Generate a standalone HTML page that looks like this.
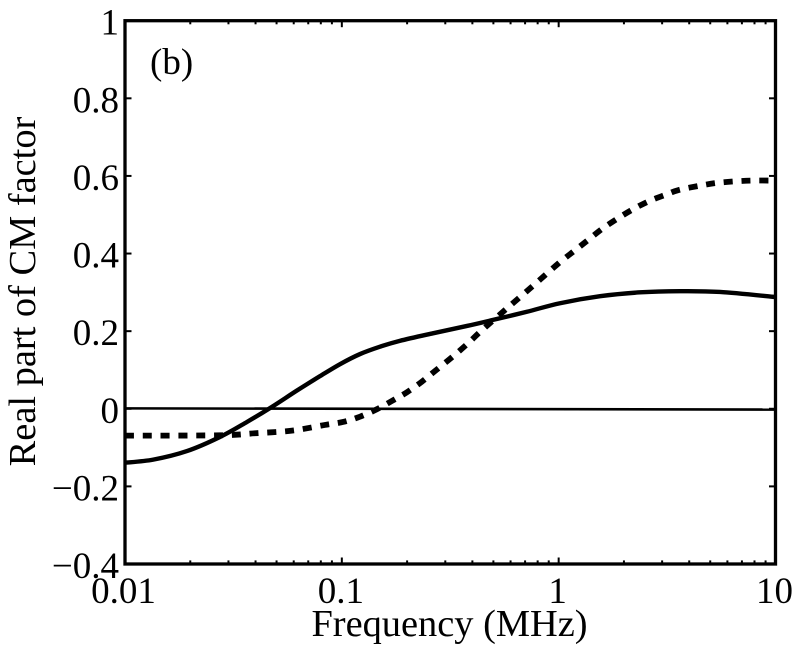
<!DOCTYPE html>
<html lang="en">
<head>
<meta charset="utf-8">
<title>Real part of CM factor vs frequency</title>
<style>
html,body{margin:0;padding:0;background:#fff;width:800px;height:651px;overflow:hidden}
svg{display:block}
text{font-family:"Liberation Serif","Times New Roman",serif;fill:#000;font-size:37px}
text.axis-title{font-size:38.4px}
</style>
</head>
<body>
<svg id="chart" width="800" height="651" viewBox="0 0 800 651" xmlns="http://www.w3.org/2000/svg">
  <rect x="0" y="0" width="800" height="651" fill="#fff"/>
  <g id="marks"></g>
  <g id="ticks"></g>
  <rect x="125" y="20.7" width="650.5" height="543.3" fill="none" stroke="#000" stroke-width="3.3"/>
  <g id="labels"></g>
  <text class="axis-title" x="449.5" y="636" text-anchor="middle">Frequency (MHz)</text>
  <text class="axis-title" transform="translate(35,291.5) rotate(-90)" text-anchor="middle">Real part of CM factor</text>
  <text x="150" y="74">(b)</text>
</svg>
<script>
const xTickValues = [0.01, 0.1, 1, 10];
const xTickLabels = ["0.01", "0.1", "1", "10"];
const yTickValues = [-0.4, -0.2, 0, 0.2, 0.4, 0.6, 0.8, 1];
const yTickLabels = ["\u22120.4", "\u22120.2", "0", "0.2", "0.4", "0.6", "0.8", "1"];
const minorMultipliers = [2, 3, 4, 5, 6, 7, 8, 9];

const solidFreq = [0.01, 0.0135, 0.0193, 0.0274, 0.0365, 0.0473, 0.0621, 0.0793, 0.0981, 0.1213, 0.15, 0.185, 0.263, 0.3776, 0.498, 0.714, 1.014, 1.552, 2.37, 3.63, 5.55, 10];
const solidValues = [-0.139, -0.131, -0.109, -0.0727, -0.034, 0.004, 0.047, 0.084, 0.115, 0.141, 0.16, 0.175, 0.1945, 0.2134, 0.229, 0.25, 0.272, 0.29, 0.3, 0.303, 0.301, 0.288];

const dashedFreq = [0.01, 0.0274, 0.0398, 0.0589, 0.0836, 0.1012, 0.1213, 0.145, 0.17, 0.1995, 0.234, 0.269, 0.322, 0.382, 0.439, 0.578, 0.769, 1.0, 1.19, 1.38, 1.6, 1.88, 2.2, 2.61, 3.13, 3.59, 4.49, 5.37, 6.5, 7.87, 10];
const dashedValues = [-0.0693, -0.0683, -0.0631, -0.0564, -0.0417, -0.034, -0.0204, -0.0013, 0.0201, 0.0425, 0.0698, 0.0974, 0.1327, 0.1688, 0.2005, 0.259, 0.319, 0.375, 0.4084, 0.4368, 0.465, 0.491, 0.514, 0.535, 0.552, 0.564, 0.575, 0.582, 0.586, 0.588, 0.588];

const zeroFreq = [0.01, 10];
const zeroValues = [0.001, -0.002];

const SVGNS = "http://www.w3.org/2000/svg";
const plot = { left: 125, right: 775.5, top: 20.7, bottom: 564 };

function xScale(f) {
  return plot.left + (Math.log10(f) + 2) / 3 * (plot.right - plot.left);
}
function yScale(v) {
  return plot.bottom - (v + 0.4) / 1.4 * (plot.bottom - plot.top);
}
function smoothPath(xs, ys) {
  const p = xs.map((f, i) => [xScale(f), yScale(ys[i])]);
  let d = "M" + p[0][0].toFixed(2) + " " + p[0][1].toFixed(2);
  for (let i = 0; i < p.length - 1; i++) {
    const a = p[Math.max(i - 1, 0)], b = p[i], c = p[i + 1], e = p[Math.min(i + 2, p.length - 1)];
    const c1x = b[0] + (c[0] - a[0]) / 6, c1y = b[1] + (c[1] - a[1]) / 6;
    const c2x = c[0] - (e[0] - b[0]) / 6, c2y = c[1] - (e[1] - b[1]) / 6;
    d += "C" + c1x.toFixed(2) + " " + c1y.toFixed(2) + " " + c2x.toFixed(2) + " " + c2y.toFixed(2) + " " + c[0].toFixed(2) + " " + c[1].toFixed(2);
  }
  return d;
}
function addLine(parent, x1, y1, x2, y2, w) {
  const l = document.createElementNS(SVGNS, "line");
  l.setAttribute("x1", x1);
  l.setAttribute("y1", y1);
  l.setAttribute("x2", x2);
  l.setAttribute("y2", y2);
  l.setAttribute("stroke", "#000");
  l.setAttribute("stroke-width", w);
  parent.appendChild(l);
  return l;
}
function addSeries(xs, ys, width, dash) {
  const s = document.createElementNS(SVGNS, "path");
  s.setAttribute("d", smoothPath(xs, ys));
  s.setAttribute("fill", "none");
  s.setAttribute("stroke", "#000");
  s.setAttribute("stroke-width", width);
  if (dash) s.setAttribute("stroke-dasharray", dash);
  document.getElementById("marks").appendChild(s);
  return s;
}

const zeroLine = addSeries(zeroFreq, zeroValues, 2.6);


const solidLine = addSeries(solidFreq, solidValues, 4.4);


const dashedLine = addSeries(dashedFreq, dashedValues, 5.8, "9 8.8");



const tickGroup = document.getElementById("ticks");
const labelGroup = document.getElementById("labels");

xTickValues.forEach((f, i) => {
  const x = xScale(f);
  const bottomTick = addLine(tickGroup, x, plot.bottom, x, plot.bottom - 6.5, 2);
  
  
  const topTick = addLine(tickGroup, x, plot.top, x, plot.top + 6.5, 2);
  
  
  const t = document.createElementNS(SVGNS, "text");
  
  
  t.setAttribute("x", x - (i === 0 ? 1.5 : 1));
  t.setAttribute("y", 603);
  t.setAttribute("text-anchor", "middle");
  t.textContent = xTickLabels[i];
  labelGroup.appendChild(t);
  if (i < xTickValues.length - 1) {
    minorMultipliers.forEach(m => {
      const mx = xScale(f * m);
      const minorBottom = addLine(tickGroup, mx, plot.bottom, mx, plot.bottom - 3.6, 2);
      
      
      const minorTop = addLine(tickGroup, mx, plot.top, mx, plot.top + 3.6, 2);
      
      
    });
  }
});

yTickValues.forEach((v, i) => {
  const y = yScale(v);
  const leftTick = addLine(tickGroup, plot.left, y, plot.left + 6.5, y, 2);
  
  
  const rightTick = addLine(tickGroup, plot.right, y, plot.right - 6.5, y, 2);
  
  
  const t = document.createElementNS(SVGNS, "text");
  
  
  t.setAttribute("x", 119);
  t.setAttribute("y", y + 14);
  t.setAttribute("text-anchor", "end");
  t.textContent = yTickLabels[i];
  labelGroup.appendChild(t);
});
</script>
</body>
</html>
